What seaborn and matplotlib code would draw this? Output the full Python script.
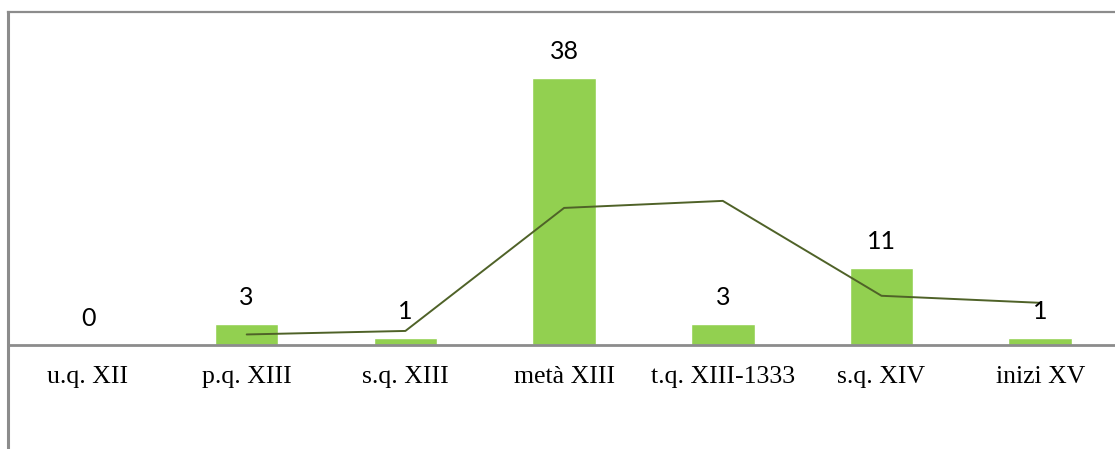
import matplotlib
matplotlib.use("Agg")
import matplotlib.pyplot as plt
import seaborn as sns
import pandas as pd

# Periods and counts
periods = ["u.q. XII", "p.q. XIII", "s.q. XIII", "metà XIII",
           "t.q. XIII-1333", "s.q. XIV", "inizi XV"]
counts = [0, 3, 1, 38, 3, 11, 1]

# Two-period moving average trend (starts at the second period)
trend_periods = ["p.q. XIII", "s.q. XIII", "metà XIII",
                 "t.q. XIII-1333", "s.q. XIV", "inizi XV"]
trend_values = [1.5, 2, 19.5, 20.5, 7, 6]

sns.set_theme(style="white")
plt.rcParams["font.family"] = ["Lato", "DejaVu Sans"]

W, H = 1115, 449
fig = plt.figure(figsize=(W / 100, H / 100), dpi=100)
ax = fig.add_axes([8 / W, 0, (W - 8) / W, (H - 12) / H])

df = pd.DataFrame({"period": periods, "count": counts})
sns.barplot(data=df, x="period", y="count", order=periods,
            color="#92D050", saturation=1, width=0.40, ax=ax)

pos = [periods.index(p) for p in trend_periods]
sns.lineplot(x=pos, y=trend_values, color="#4F6228", linewidth=1.4, ax=ax)

# Scale: 7.03 px per unit, baseline at 345 px from top
px_per_unit = 7.03
ax.set_ylim((345 - 449) / px_per_unit, (345 - 12) / px_per_unit)
ax.set_xlim((8 - 88) / 158.7, (1115 - 88) / 158.7)

ax.axhline(0, color="#8c8c8c", linewidth=2.0, zorder=1)

for i, v in enumerate(counts):
    ax.annotate(str(v), (i, v), xytext=(0, 19.0), textcoords="offset points",
                ha="center", va="center", fontsize=18, color="black")

for i, p in enumerate(periods):
    ax.text(i, (345 - 377) / px_per_unit, p, ha="center", va="center",
            fontsize=18.5, family=["Liberation Serif", "DejaVu Serif"],
            color="black")

ax.set_xticks([])
ax.set_yticks([])
ax.set_xlabel("")
ax.set_ylabel("")
for s in ["right", "bottom"]:
    ax.spines[s].set_visible(False)
ax.spines["left"].set_color("#8c8c8c")
ax.spines["left"].set_linewidth(2.2)
ax.spines["top"].set_color("#8c8c8c")
ax.spines["top"].set_linewidth(1.6)

fig.savefig("out.png", dpi=100)
